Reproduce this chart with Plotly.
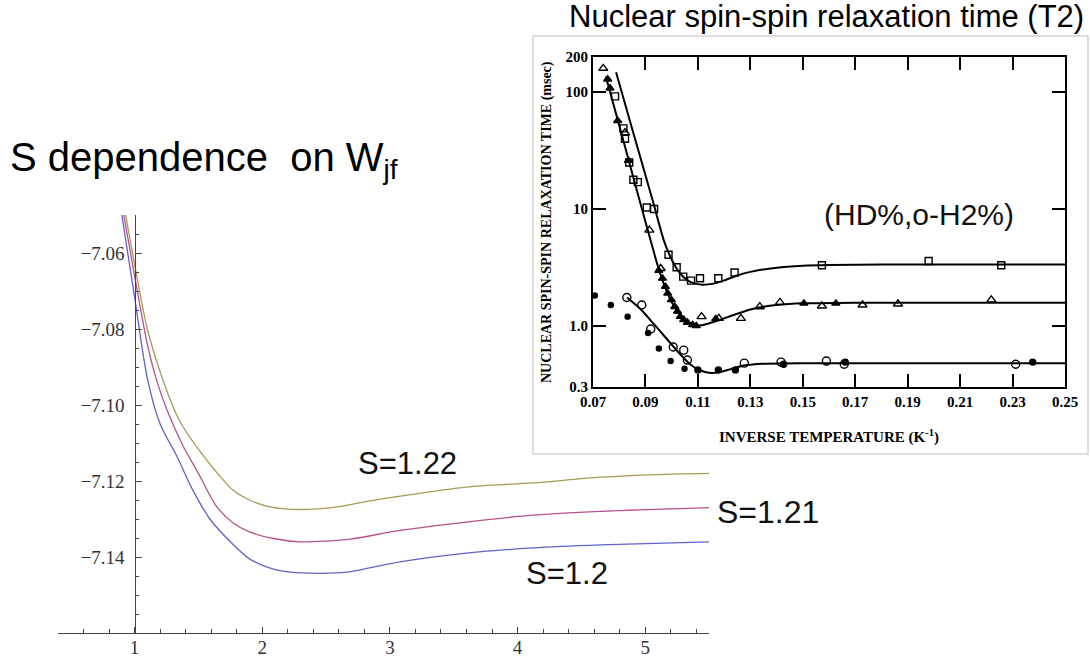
import plotly.graph_objects as go

W, H = 1090, 660

# ---------------- Left chart data (S dependence on W_jf) ----------------
x_s122 = [0.93, 1.0, 1.1, 1.22, 1.35, 1.51, 1.65, 1.77, 1.9, 2.06, 2.3, 2.59, 2.8, 3.08, 3.6, 4.12, 4.65, 5.1, 5.5]
y_s122 = [-7.05, -7.063, -7.08, -7.0932, -7.104, -7.1121, -7.118, -7.1224, -7.125, -7.1268, -7.1275, -7.1268,
          -7.1255, -7.124, -7.1216, -7.1205, -7.119, -7.1183, -7.118]
x_s121 = [0.915, 1.0, 1.1, 1.17, 1.25, 1.38, 1.5, 1.64, 1.77, 1.9, 2.1, 2.29, 2.5, 2.69, 3.08, 3.6, 4.12, 4.65, 5.5]
y_s121 = [-7.05, -7.066, -7.084, -7.0932, -7.101, -7.1108, -7.118, -7.1266, -7.131, -7.1334, -7.1352, -7.136,
          -7.1358, -7.1353, -7.133, -7.1308, -7.129, -7.128, -7.127]
x_s120 = [0.90, 1.0, 1.1, 1.2, 1.33, 1.45, 1.59, 1.75, 1.9, 2.05, 2.22, 2.45, 2.66, 2.85, 3.08, 3.6, 4.12, 4.65, 5.5]
y_s120 = [-7.05, -7.0716, -7.093, -7.105, -7.1134, -7.122, -7.13, -7.136, -7.1405, -7.1428, -7.144, -7.1443,
          -7.144, -7.1428, -7.1413, -7.139, -7.1376, -7.1368, -7.136]

left_xticks = [1, 2, 3, 4, 5]
left_yticks = [-7.14, -7.12, -7.10, -7.08, -7.06]
left_xrange = [0.4, 5.5]
left_yrange = [-7.16, -7.05]

# ---------------- Inset data (T2 vs inverse temperature) ----------------
fit_upper_x = [0.0788, 0.085, 0.09, 0.0933, 0.097, 0.1, 0.103, 0.106, 0.109, 0.112, 0.116, 0.12, 0.125, 0.13,
               0.14, 0.15, 0.16, 0.18, 0.25]
fit_upper_y = [148, 48, 19.5, 10.7, 5.4, 3.7, 2.85, 2.45, 2.3, 2.25, 2.3, 2.45, 2.7, 2.9, 3.15, 3.27, 3.32, 3.35, 3.36]
fit_mid_x = [0.0749, 0.08, 0.085, 0.09, 0.095, 0.098, 0.1, 0.103, 0.106, 0.109, 0.112, 0.116, 0.12, 0.125, 0.13,
             0.135, 0.14, 0.15, 0.17, 0.25]
fit_mid_y = [136, 52, 20, 7.8, 3.1, 2.0, 1.6, 1.25, 1.07, 1.01, 1.02, 1.08, 1.16, 1.27, 1.38, 1.46, 1.51, 1.56, 1.58, 1.58]
fit_low_x = [0.083, 0.088, 0.093, 0.098, 0.103, 0.107, 0.111, 0.115, 0.119, 0.123, 0.128, 0.135, 0.15, 0.25]
fit_low_y = [1.75, 1.4, 1.05, 0.78, 0.58, 0.47, 0.415, 0.395, 0.405, 0.43, 0.46, 0.475, 0.48, 0.48]

sq_x = [0.0784, 0.0816, 0.0822, 0.0838, 0.0854, 0.0871, 0.0905, 0.0933, 0.0988, 0.1019, 0.1044, 0.1074, 0.1108,
        0.1178, 0.124, 0.1573, 0.198, 0.2257]
sq_y = [92, 49, 40, 25, 17.8, 17, 10.3, 10, 4.06, 3.18, 2.64, 2.44, 2.56, 2.56, 2.86, 3.3, 3.59, 3.3]
tri_open_x = [0.0739, 0.0822, 0.0915, 0.0958, 0.1114, 0.118, 0.1264, 0.1336, 0.1413, 0.1573, 0.1728, 0.1863, 0.2219]
tri_open_y = [160, 45, 6.6, 3.1, 1.2, 1.16, 1.16, 1.46, 1.59, 1.48, 1.51, 1.54, 1.67]
tri_fill_x = [0.0756, 0.0765, 0.0794, 0.0835, 0.0951, 0.0965, 0.0976, 0.0985, 0.0999, 0.1012, 0.1022, 0.1033,
              0.1046, 0.106, 0.108, 0.1094, 0.1168, 0.1504, 0.1626]
tri_fill_y = [129, 108, 57, 26, 2.97, 2.55, 2.17, 1.90, 1.67, 1.46, 1.33, 1.2, 1.13, 1.07, 1.02, 1.0, 1.15, 1.56, 1.56]
circ_open_x = [0.0829, 0.0886, 0.092, 0.1006, 0.1046, 0.106, 0.1277, 0.1417, 0.159, 0.1658, 0.2312]
circ_open_y = [1.75, 1.51, 0.94, 0.66, 0.62, 0.51, 0.48, 0.49, 0.50, 0.47, 0.47]
circ_fill_x = [0.110, 0.1178, 0.1243, 0.1427, 0.1662, 0.2377]
circ_fill_y = [0.42, 0.42, 0.42, 0.47, 0.49, 0.49]
dot_x = [0.0707, 0.0768, 0.0832, 0.091, 0.0951, 0.0996, 0.1049]
dot_y = [1.82, 1.51, 1.2, 0.87, 0.64, 0.50, 0.43]

inset_xticks = [0.07, 0.09, 0.11, 0.13, 0.15, 0.17, 0.19, 0.21, 0.23, 0.25]
inset_yticks = [0.3, 1, 10, 100, 200]
inset_yticktext = ["0.3", "1.0", "10", "100", "200"]

# ---------------- Layout geometry (pixels) ----------------
L_x0, L_x1, L_y0, L_y1 = 58, 709, 215, 633
I_x0, I_x1, I_y0, I_y1 = 593, 1065, 57, 387

def px(x):
    return x / W

def py(y):
    return 1 - y / H

fig = go.Figure()

col_y = "#a89a52"
col_p = "#b8508a"
col_b = "#6262c8"
for xs, ys, c in [(x_s122, y_s122, col_y), (x_s121, y_s121, col_p), (x_s120, y_s120, col_b)]:
    fig.add_trace(go.Scatter(x=xs, y=ys, mode="lines", line=dict(color=c, width=1.3, shape="spline", smoothing=0.8),
                             xaxis="x", yaxis="y", showlegend=False, hoverinfo="skip"))

for xs, ys in [(fit_upper_x, fit_upper_y), (fit_mid_x, fit_mid_y), (fit_low_x, fit_low_y)]:
    fig.add_trace(go.Scatter(x=xs, y=ys, mode="lines", line=dict(color="black", width=2, shape="spline", smoothing=0.6),
                             xaxis="x2", yaxis="y2", showlegend=False, hoverinfo="skip"))

mk = [
    (sq_x, sq_y, "square-open", 7),
    (tri_open_x, tri_open_y, "triangle-up-open", 8),
    (tri_fill_x, tri_fill_y, "triangle-up", 7),
    (circ_open_x, circ_open_y, "circle-open", 8),
    (circ_fill_x, circ_fill_y, "circle", 6),
    (dot_x, dot_y, "circle", 5),
]
for xs, ys, sym, sz in mk:
    fig.add_trace(go.Scatter(x=xs, y=ys, mode="markers",
                             marker=dict(symbol=sym, size=sz, color="black", line=dict(color="black", width=1.4)),
                             xaxis="x2", yaxis="y2", showlegend=False, hoverinfo="skip"))

dom_x = [px(L_x0), px(L_x1)]
yaxis_pos = dom_x[0] + (1 - left_xrange[0]) / (left_xrange[1] - left_xrange[0]) * (dom_x[1] - dom_x[0])

serif = "Liberation Serif, Times New Roman, serif"
sans = "Liberation Sans, Arial, sans-serif"

fig.update_layout(
    width=W, height=H, margin=dict(l=0, r=0, t=0, b=0),
    paper_bgcolor="white", plot_bgcolor="white", showlegend=False,
    xaxis=dict(domain=dom_x, range=left_xrange, anchor="y", showgrid=False, zeroline=False,
               showline=True, linecolor="#444", linewidth=1.3,
               tickmode="array", tickvals=left_xticks, ticks="inside", ticklen=6, tickwidth=1.3, tickcolor="#444",
               minor=dict(dtick=0.2, tick0=0, ticks="inside", ticklen=4, tickwidth=1, tickcolor="#444"),
               ticklabelstandoff=-3,
               tickfont=dict(family=serif, size=19, color="#333"), automargin=False),
    yaxis=dict(domain=[py(L_y1), py(L_y0)], range=left_yrange, anchor="free", position=yaxis_pos,
               showgrid=False, zeroline=False, showline=True, linecolor="#444", linewidth=1.3,
               tickmode="array", tickvals=left_yticks, tickformat=".2f", ticks="inside", ticklen=6, tickwidth=1.3,
               tickcolor="#444",
               minor=dict(dtick=0.005, tick0=0, ticks="inside", ticklen=3.5, tickwidth=1, tickcolor="#444"),
               ticklabelstandoff=6,
               tickfont=dict(family=serif, size=19, color="#333"), automargin=False),
    xaxis2=dict(domain=[px(I_x0), px(I_x1)], range=[0.07, 0.25], anchor="y2", showgrid=False, zeroline=False,
                showline=True, mirror="allticks", linecolor="black", linewidth=2,
                tickmode="array", tickvals=inset_xticks, tickformat=".2f", ticks="inside", ticklen=13, tickwidth=2,
                tickcolor="black", tickfont=dict(family=serif, size=15, color="black", weight="bold"),
                automargin=False),
    yaxis2=dict(domain=[py(I_y1), py(I_y0)], type="log", range=[-0.5229, 2.30103], anchor="x2",
                showgrid=False, zeroline=False, showline=True, mirror="allticks", linecolor="black", linewidth=2,
                tickmode="array", tickvals=inset_yticks, ticktext=inset_yticktext, ticks="inside", ticklen=13,
                tickwidth=2, tickcolor="black", tickfont=dict(family=serif, size=15, color="black", weight="bold"),
                automargin=False),
)

fig.add_shape(type="rect", xref="paper", yref="paper", x0=px(533), x1=px(1088), y0=py(454), y1=py(36),
              line=dict(color="#d4d4d4", width=1.5), layer="below")

ann = [
    dict(text="S dependence&nbsp; on W<sub>jf</sub>", x=px(8), y=py(160), xanchor="left", yanchor="middle",
         font=dict(family=sans, size=40, color="black")),
    dict(text="Nuclear spin-spin relaxation time (T2)", x=px(826), y=py(16), xanchor="center", yanchor="middle",
         font=dict(family=sans, size=31, color="black")),
    dict(text="(HD%,o-H2%)", x=px(919), y=py(214), xanchor="center", yanchor="middle",
         font=dict(family=sans, size=30, color="#111")),
    dict(text="S=1.22", x=px(407), y=py(463), xanchor="center", yanchor="middle",
         font=dict(family=sans, size=31, color="#111")),
    dict(text="S=1.21", x=px(768), y=py(512), xanchor="center", yanchor="middle",
         font=dict(family=sans, size=32, color="#111")),
    dict(text="S=1.2", x=px(567), y=py(573), xanchor="center", yanchor="middle",
         font=dict(family=sans, size=31, color="#111")),
    dict(text="INVERSE TEMPERATURE (K<sup>-1</sup>)", x=px(829), y=py(436), xanchor="center", yanchor="middle",
         font=dict(family=serif, size=15, color="black", weight="bold")),
    dict(text="NUCLEAR SPIN-SPIN RELAXATION TIME (msec)", x=px(547), y=py(222), xanchor="center",
         yanchor="middle", textangle=-90, font=dict(family=serif, size=14, color="black", weight="bold")),
]
for a in ann:
    fig.add_annotation(xref="paper", yref="paper", showarrow=False, **a)

fig.write_html("out.html", config={"displayModeBar": False},
               post_script="document.body.style.margin='0px';document.body.style.overflow='hidden';")
